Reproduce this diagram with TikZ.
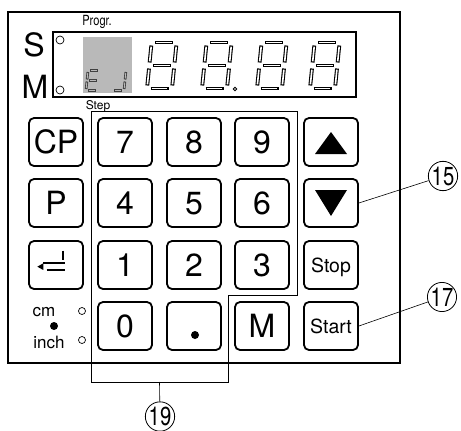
\documentclass[tikz,border=0pt]{standalone}
\usepackage{fontspec}
\setmainfont{TeX Gyre Heros}

\newcommand\keyfont{\fontsize{32}{32}\selectfont}
% one segment: black outline, white core
\newcommand\seg[2]{\draw[segout] #1 -- #2; \draw[segin] #1 -- #2;}
% full 7-segment digit, bottom left corner at (#1,#2)
\newcommand\eightdigit[2]{%
  \begin{scope}[shift={(#1,#2)}, xslant=0.1]
    \seg{(3.5,-46)}{(21.5,-46)}
    \seg{(25,-43)}{(25,-26)}
    \seg{(25,-20)}{(25,-3)}
    \seg{(3.5,0)}{(21.5,0)}
    \seg{(0,-20)}{(0,-3)}
    \seg{(0,-43)}{(0,-26)}
    \seg{(3.5,-23)}{(21.5,-23)}
  \end{scope}}

\tikzset{
  key/.style={draw, line width=1.8pt, rounded corners=5pt, minimum width=54pt,
    minimum height=48pt, inner sep=0pt, text depth=0pt, font=\keyfont},
  segout/.style={line width=3.8pt},
  segin/.style={white, line width=1.6pt, shorten <=1.2pt, shorten >=1.2pt},
  callout/.style={draw, circle, line width=0.8pt, minimum size=25.5pt,
    inner sep=0pt, font=\fontsize{26}{26}\selectfont},
  led/.style={draw, circle, line width=0.7pt, minimum size=7pt, inner sep=0pt},
  lead/.style={line width=0.6pt},
}

\begin{document}
\begin{tikzpicture}[x=1pt, y=-1pt]
  \useasboundingbox (0,0) rectangle (461,431);

  % housing and display
  \draw[line width=2pt] (8,12) rectangle (400,363);
  \draw[line width=1.5pt] (53,32) rectangle (356,97);
  \node (progr) at (97,22) {\fontsize{14}{14}\selectfont\scalebox{0.79}[1]{Progr.}};
  \node (lblS) at (34,45) {\keyfont S};
  \node (lblM) at (35,87) {\keyfont M};
  \node[led, minimum size=8pt] (ledS) at (60,40) {};
  \node[led, minimum size=8pt] (ledM) at (60,90) {};

  % step field
  \fill[gray!55] (83,37) rectangle (132,93);
  \begin{scope}[segout/.style={black!75, line width=2.6pt},
      segin/.style={gray!55, line width=0.9pt, shorten <=1pt, shorten >=1pt}]
    \begin{scope}[shift={(86,90.5)}, xslant=0.1]
      \seg{(2,-20)}{(10,-20)}
      \seg{(0,-18.5)}{(0,-11)}
      \seg{(2,-10)}{(10,-10)}
      \seg{(0,-9)}{(0,-1.5)}
      \seg{(2,0)}{(10,0)}
    \end{scope}
    \begin{scope}[shift={(112,90.5)}, xslant=0.1]
      \seg{(12,-18.5)}{(12,-11)}
      \seg{(12,-9)}{(12,-1.5)}
      \seg{(2,0)}{(10,0)}
    \end{scope}
  \end{scope}

  % value field
  \eightdigit{147}{88.5}
  \eightdigit{202}{88.5}
  \eightdigit{257}{88.5}
  \eightdigit{310}{88.5}
  \draw[line width=0.8pt] (235,89) circle (1.8);

  % keys
  \node[key] (kcp) at (56,142) {CP};
  \node[key] (k7) at (125,142) {7};
  \node[key] (k8) at (194,142) {8};
  \node[key] (k9) at (262,142) {9};
  \node[key] (kup) at (331,142) {};
  \node[key] (kp) at (56,203) {P};
  \node[key] (k4) at (125,203) {4};
  \node[key] (k5) at (194,203) {5};
  \node[key] (k6) at (262,203) {6};
  \node[key] (kdown) at (331,203) {};
  \node[key] (kenter) at (56,265) {};
  \node[key] (k1) at (125,265) {1};
  \node[key] (k2) at (194,265) {2};
  \node[key] (k3) at (262,265) {3};
  \node[key, font=\fontsize{19.5}{19.5}\selectfont] (kstop) at (331,265) {Stop};
  \node[key] (k0) at (125,326) {0};
  \node[key] (kdot) at (194,326) {};
  \node[key] (kmem) at (262,326) {M};
  \node[key, font=\fontsize{19.5}{19.5}\selectfont] (kstart) at (331,326) {Start};

  % key symbols
  \fill (kup.center) ++(-16,12) -- ++(32,0) -- ++(-16,-22) -- cycle;
  \fill (kdown.center) ++(-16,-13) -- ++(32,0) -- ++(-16,26) -- cycle;
  \fill (kdot.center) ++(1,9) circle (4);
  \fill (kenter.center) ++(-18.7,1.7) -- ++(6,-3.4) -- ++(0,6.7) -- cycle;
  \draw[line width=1.8pt] (kenter.center) ++(-12.7,-1.7) -- ++(21.7,0);
  \draw[line width=1.8pt] (kenter.center) ++(-9.3,5) -- ++(18.3,0);
  \draw[line width=1.8pt] (kenter.center) ++(6.7,-14.3) -- ++(0,9.3);

  % unit switch
  \node (cm) at (44,312) {\fontsize{17}{17}\selectfont cm};
  \node (inch) at (49,342) {\fontsize{17}{17}\selectfont inch};
  \fill (54,326) circle (4);
  \node[led] (ledcm) at (82,311) {};
  \node[led] (ledinch) at (82,340) {};

  % step bracket
  \node (step) at (98,106) {\fontsize{12}{12}\selectfont Step};
  \draw[lead] (91,111) -- (297,111) -- (297,295) -- (228,295) -- (228,382)
    -- (91,382) -- cycle;
  \coordinate (stepmid) at (159.5,382);

  % callouts
  \node[callout] (c15) at (443,176) {\scalebox{0.78}[1]{15}};
  \node[callout] (c17) at (442,297) {\scalebox{0.78}[1]{17}};
  \node[callout] (c19) at (160,416.5) {\scalebox{0.78}[1]{19}};
  \draw[lead] (kdown.east) -- (c15);
  \draw[lead] (kstart.east) -- (c17);
  \draw[lead] (stepmid) -- (c19);
\end{tikzpicture}
\end{document}
